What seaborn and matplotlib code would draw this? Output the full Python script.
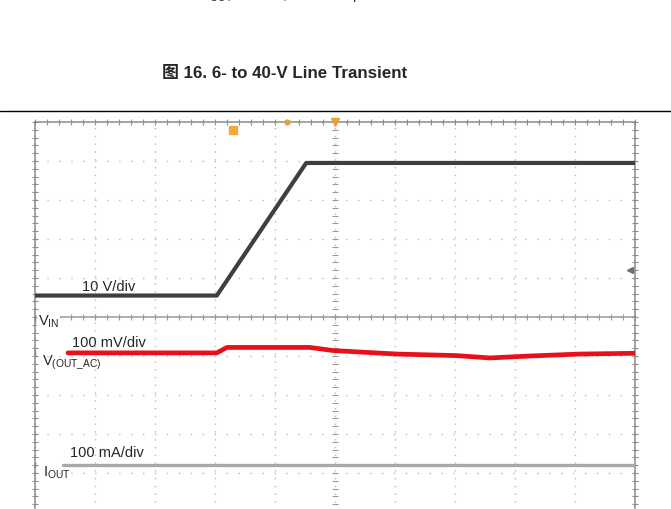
import numpy as np
import pandas as pd
import seaborn as sns
import matplotlib.pyplot as plt
from matplotlib.lines import Line2D

# scope screen: 10 div across, 10 div tall (centre = 0), time in divisions
VIN_T = [0.0, 3.03, 4.52, 10.0]
VIN_V = [6.0, 6.0, 40.0, 40.0]

VOUT_T = [0.55, 3.03, 3.2, 3.6, 4.58, 4.97, 6.03, 7.03, 7.58, 8.25, 9.08, 10.0]
VOUT_MV = [0, 0, 14, 14, 14, 6, -3, -7, -13, -8, -3, -1]

IOUT_T = [0.47, 10.0]
IOUT_MA = [0, 0]

# channel settings (per-div scale, position in div)
VIN_SCALE, VIN_POS = 10.0, -0.05
VOUT_SCALE, VOUT_POS = 100.0, -0.92
IOUT_SCALE, IOUT_POS = 100.0, -3.80

sns.set_theme(style="white")
plt.rcParams["font.family"] = ["Liberation Sans", "Noto Sans CJK SC", "DejaVu Sans"]
plt.rcParams["mathtext.fontset"] = "custom"
plt.rcParams["mathtext.rm"] = "Liberation Sans"

vin = pd.DataFrame({"t": VIN_T, "div": np.array(VIN_V) / VIN_SCALE + VIN_POS})
vout = pd.DataFrame({"t": VOUT_T, "div": np.array(VOUT_MV) / VOUT_SCALE + VOUT_POS})
iout = pd.DataFrame({"t": IOUT_T, "div": np.array(IOUT_MA) / IOUT_SCALE + IOUT_POS})

W, H = 671, 510
fig = plt.figure(figsize=(W / 100, H / 100), dpi=100)
ax = fig.add_axes([35 / W, (H - 513) / H, 600 / W, 390 / H])

ax.set_xlim(0, 10)
ax.set_ylim(-5, 5)
ax.set_xticks(np.arange(0, 11, 1))
ax.set_yticks(np.arange(-5, 6, 1))
ax.set_xticks(np.arange(0, 10.01, 0.2), minor=True)
ax.set_yticks(np.arange(-5, 5.01, 0.2), minor=True)
ax.tick_params(which="both", direction="inout", length=4, width=0.8, color="#8c8c8c",
               top=True, right=True, bottom=True, left=True,
               labelbottom=False, labelleft=False)
for s in ax.spines.values():
    s.set_color("#8c8c8c")
    s.set_linewidth(1.1)

# dotted graticule
ax.xaxis.grid(True, which="major", color="#bcbcbc", lw=1.0, linestyle=(0, (1, 4.6)))
ax.yaxis.grid(True, which="major", color="#bcbcbc", lw=1.0, linestyle=(0, (1, 7.6)))
ax.set_axisbelow(True)

# centre cross with ticks
ax.axhline(0, color="#9a9a9a", lw=1.1, zorder=1)
cx = np.arange(0, 10.01, 0.2)
cy = np.arange(-5, 5.01, 0.2)
ax.plot(cx, np.zeros_like(cx), ls="none", marker="|", ms=4, mew=0.8, color="#9a9a9a", zorder=1)
ax.plot(np.full_like(cy, 5.0), cy, ls="none", marker="_", ms=4, mew=0.8, color="#9a9a9a", zorder=1)

# channel labels (VIN label sits on a white patch over the centre line)
box = dict(facecolor="white", edgecolor="none", pad=0.5)
fs = 10.5
ax.text(0.78, 0.69, "10 V/div", fontsize=fs, va="baseline", zorder=7)
ax.text(0.05, -0.18, r"V$_\mathrm{IN}$", fontsize=fs, va="baseline", bbox=box, zorder=2)
ax.text(0.62, -0.74, "100 mV/div", fontsize=fs, va="baseline", zorder=7)
ax.text(0.11, -1.2, r"V$_\mathrm{(OUT\_AC)}$", fontsize=fs, va="baseline", zorder=7)
ax.text(0.58, -3.56, "100 mA/div", fontsize=fs, va="baseline", zorder=7)
ax.text(0.13, -4.05, r"I$_\mathrm{OUT}$", fontsize=fs, va="baseline", zorder=7)

# traces
sns.lineplot(data=iout, x="t", y="div", ax=ax, color="#a9a9a9", lw=2.4,
             estimator=None, sort=False, zorder=3)
sns.lineplot(data=vout, x="t", y="div", ax=ax, color="#e8111b", lw=3.4,
             estimator=None, sort=False, zorder=4)
sns.lineplot(data=vin, x="t", y="div", ax=ax, color="#3f3f3f", lw=3.0,
             estimator=None, sort=False, zorder=5)
ax.set_xlabel("")
ax.set_ylabel("")

# scope markers
ax.plot([5.0], [5.0], marker="v", ms=6, color="#f0a030", clip_on=False, zorder=6)
ax.plot([4.2], [5.0], marker="s", ms=3, color="#f0a030", clip_on=False, zorder=6)
ax.plot([3.3], [4.79], marker="s", ms=6, color="#f4a83a", zorder=6)
ax.plot([9.92], [1.2], marker="<", ms=5, color="#6e6e6e", zorder=6)
ax.plot([0, 0, 0], [VIN_POS, VOUT_POS, IOUT_POS], ls="none", marker="|", ms=5,
        color="#888888", clip_on=False, zorder=6)

# page elements around the screenshot (caption line above is cropped in the source)
fig.text(200 / W, 1 + 1 / H, r"V$_\mathrm{OUT}$ = 3.3 V, 1-ms ramp", fontsize=fs,
         ha="left", va="baseline")
fig.text(162 / W, 1 - 78 / H, "图 16. 6- to 40-V Line Transient", fontsize=12.2,
         weight="bold", ha="left", va="baseline")
fig.add_artist(Line2D([0, 1], [1 - 112 / H] * 2, color="black", lw=1.0,
                      transform=fig.transFigure))

fig.savefig("out.png", dpi=100)
